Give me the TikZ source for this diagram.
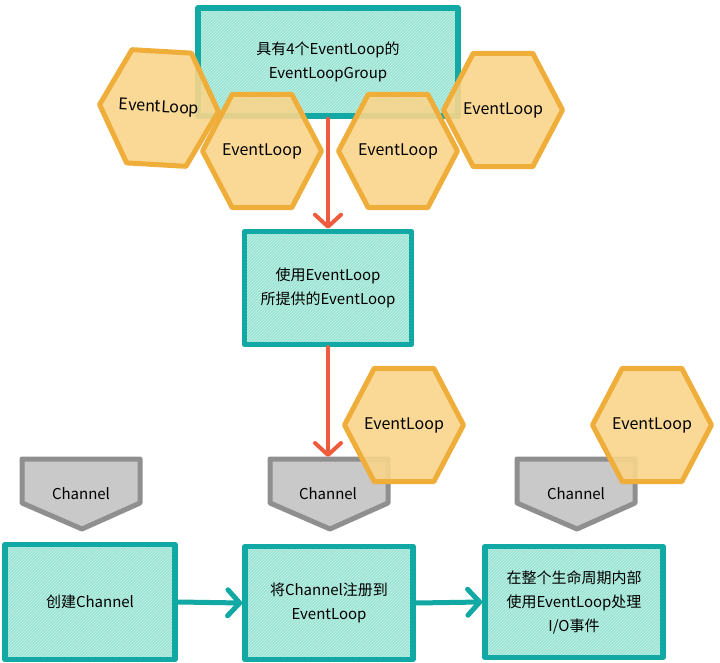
\documentclass[tikz,border=0pt]{standalone}
\usepackage{fontspec}
\usepackage{graphicx}
\setmainfont{Noto Sans CJK SC}
\usetikzlibrary{shapes.geometric,arrows.meta,patterns}
\definecolor{tealS}{RGB}{18,168,164}
\definecolor{tealF}{RGB}{152,227,211}
\definecolor{orS}{RGB}{239,173,58}
\definecolor{orF}{RGB}{249,213,139}
\definecolor{grS}{RGB}{143,143,143}
\definecolor{grF}{RGB}{201,201,201}
\definecolor{redA}{RGB}{241,91,61}
\newcommand{\hxt}{\scalebox{1}[0.91]{\makebox[0pt]{EventLoop}}}
\tikzset{
  tbox/.style={draw=tealS, preaction={fill=tealF}, pattern=north east lines, pattern color=white!50!tealF,
    line width=5.5pt, line join=round,
    align=center, inner sep=0pt, font=\fontsize{15}{24}\selectfont},
  hexa/.style={regular polygon, regular polygon sides=6, draw=orS, fill=orF,
    fill opacity=0.9, text opacity=1, line width=5pt, line join=round,
    yscale=1.1, transform shape,
    minimum size=119pt, inner sep=0pt, font=\fontsize{16}{18}\selectfont},
  chan/.style={draw=grS, fill=grF, line width=5pt, line join=round},
  chantext/.style={font=\fontsize{15}{17}\selectfont, inner sep=0pt},
  redarr/.style={draw=redA, line width=4pt, line cap=round,
    -{Straight Barb[length=12pt,width=26pt,line width=4pt,round]}},
  tealarr/.style={draw=tealS, line width=5pt, line cap=round,
    -{Straight Barb[length=12pt,width=26pt,line width=5pt,round]}},
}
\begin{document}
\begin{tikzpicture}[x=1pt,y=-1pt]
\useasboundingbox (0,0) rectangle (720,663);
% top group box
\node[tbox, minimum width=260pt, minimum height=108pt] (grp) at (328,62) {具有4个EventLoop的\\EventLoopGroup};
% hexagons
\node[hexa, rotate=-3] (h1) at (159,108) {\hxt};
\node[hexa] (h2) at (262,151) {\hxt};
\node[hexa] (h3) at (398,151) {\hxt};
\node[hexa] (h4) at (503,110) {\hxt};
% second box
\node[tbox, minimum width=167pt, minimum height=113pt] (use) at (328,288) {使用EventLoop\\所提供的EventLoop};
% channels
\draw[chan] (22,459) -- (140,459) -- (140,503) -- (82,529) -- (22,503) -- cycle;
\node[chantext] (c1) at (81,494) {Channel};
\draw[chan] (270,459) -- (388,459) -- (388,503) -- (330,529) -- (270,503) -- cycle;
\node[chantext] (c2) at (328,494) {Channel};
\coordinate (c2top) at (328,457);
\draw[chan] (517,459) -- (635,459) -- (635,503) -- (577,529) -- (517,503) -- cycle;
\node[chantext] (c3) at (576,494) {Channel};
% lower hexagons
\node[hexa] (h5) at (404,425) {\hxt};
\node[hexa] (h6) at (652,425) {\hxt};
% bottom boxes
\node[tbox, minimum width=170pt, minimum height=115pt] (b1) at (90,602) {创建Channel};
\node[tbox, minimum width=168pt, minimum height=113pt] (b2) at (329,603) {将Channel注册到\\EventLoop};
\node[tbox, minimum width=178pt, minimum height=111pt] (b3) at (574,602) {在整个生命周期内部\\使用EventLoop处理\\I/O事件};
% arrows
\draw[redarr] (grp.south) -- (use.north);
\draw[redarr] (use.south) -- (c2top);
\draw[tealarr] (b1.east) -- (b2.west);
\draw[tealarr] (b2.east) -- (b3.west);
\end{tikzpicture}
\end{document}
